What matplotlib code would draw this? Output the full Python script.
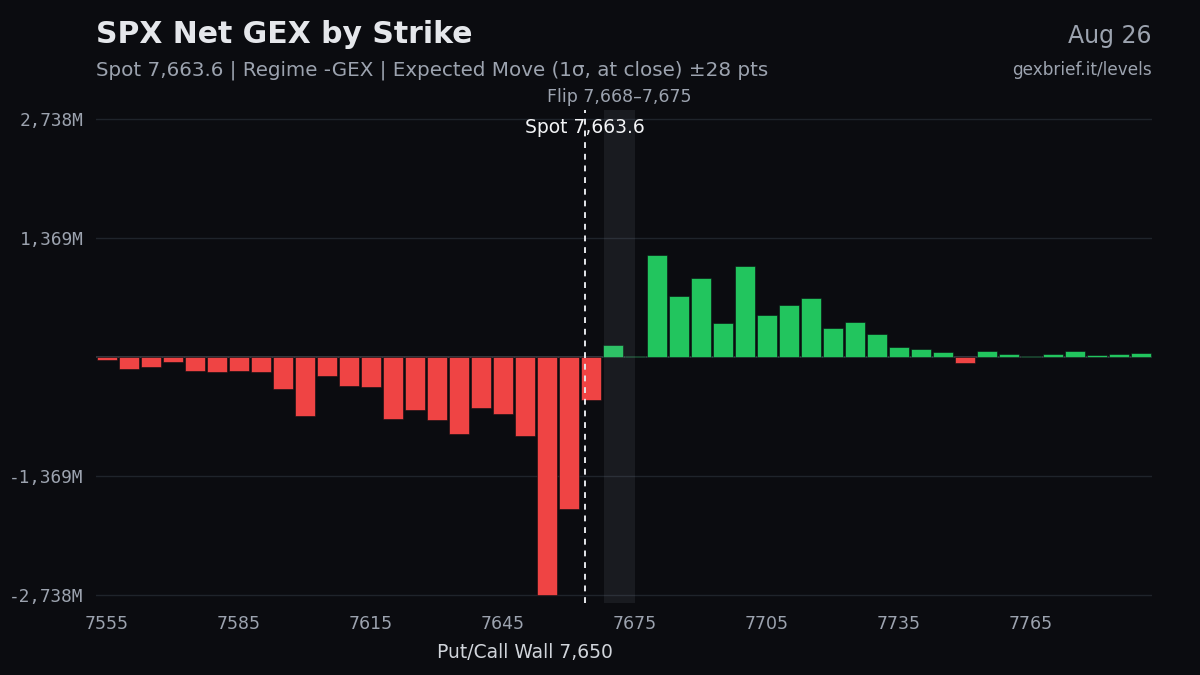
import matplotlib
matplotlib.use("Agg")
import matplotlib.pyplot as plt

# strikes and net GEX (millions)
strikes = list(range(7555, 7795, 5))
gex = [
    -34, -141, -111, -53, -157, -176, -164, -168, -363, -680,
    -222, -336, -344, -714, -611, -718, -886, -584, -649, -909,
    -2738, -1745, -496,
    137, 11, 1172, 699, 905, 386, 1050, 481, 600, 680,
    336, 401, 263, 118, 95, 61, -73, 73, 38, 15,
    34, 65, 27, 31, 50,
]
xticks = [7555, 7585, 7615, 7645, 7675, 7705, 7735, 7765]
yticks = [-2738, -1369, 1369, 2738]
ytick_labels = ["-2,738M", "-1,369M", "1,369M", "2,738M"]

spot = 7663.6
flip_lo, flip_hi = 7668, 7675
wall = 7650

BG = "#0b0c10"
RED = "#ef4444"
GREEN = "#22c55e"
GRAY = "#9ca3af"
WHITE = "#e5e7eb"

plt.rcParams['font.family'] = 'DejaVu Sans'

fig = plt.figure(figsize=(12, 6.75), dpi=100)
fig.patch.set_facecolor(BG)
ax = fig.add_axes([0.08, 0.106, 0.88, 0.731])
ax.set_facecolor(BG)

colors = [GREEN if v >= 0 else RED for v in gex]
ax.bar(strikes, gex, width=4.5, color=colors, edgecolor=BG, linewidth=0.4, zorder=3)

# flip zone and spot line
ax.axvspan(flip_lo, flip_hi, color="#9ca3af", alpha=0.1, zorder=4, lw=0)
ax.axvline(spot, color="#e5e7eb", ls=(0, (3, 3)), lw=1.4, zorder=5)
ax.axhline(0, color="#3a3f47", lw=1.2, zorder=2)

ax.set_xlim(7552.5, 7792.5)
ax.set_ylim(-2830, 2838)
ax.set_xticks(xticks)
ax.set_yticks(yticks)
ax.set_yticklabels(ytick_labels, fontfamily="DejaVu Sans Mono", fontsize=12.8)
ax.grid(axis="y", color="#1f242b", lw=1, zorder=0)
ax.tick_params(axis="x", colors=GRAY, labelsize=12.5, length=0, pad=8)
ax.tick_params(axis="y", colors=GRAY, length=0, pad=9)
for s in ax.spines.values():
    s.set_visible(False)

ax.text(spot, 2640, "Spot 7,663.6", color="#f3f4f6", fontsize=13.5,
        ha="center", va="center", zorder=6)
ax.text((flip_lo + flip_hi) / 2, 1.008, "Flip 7,668\u20137,675", color=GRAY,
        fontsize=12.5, ha="center", va="bottom", transform=ax.get_xaxis_transform())
ax.text(wall, -0.10, "Put/Call Wall 7,650", color="#d1d5db", fontsize=13.5,
        ha="center", va="center", transform=ax.get_xaxis_transform())

fig.text(0.08, 0.949, "SPX Net GEX by Strike", color=WHITE, fontsize=21.5,
         fontweight="bold", ha="left", va="center")
fig.text(0.08, 0.896, "Spot 7,663.6 | Regime -GEX | Expected Move (1\u03c3, at close) \u00b128 pts",
         color=GRAY, fontsize=14.3, ha="left", va="center")
fig.text(0.96, 0.947, "Aug 26", color=GRAY, fontsize=17, ha="right", va="center")
fig.text(0.96, 0.896, "gexbrief.it/levels", color=GRAY, fontsize=12.2, ha="right", va="center")

fig.savefig("out.png", dpi=100, facecolor=BG)
